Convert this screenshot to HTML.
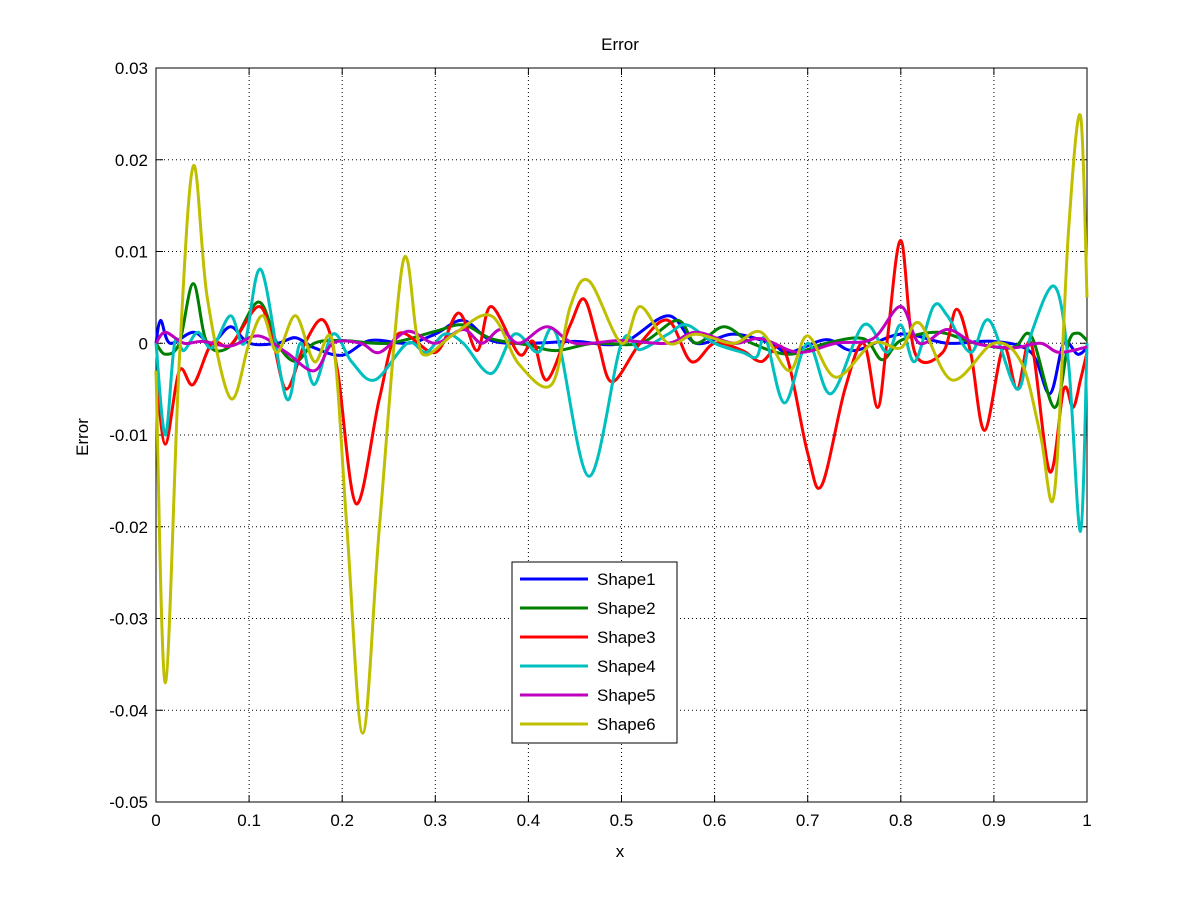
<!DOCTYPE html>
<html><head><style>
body{margin:0;background:#fff;}
svg text{font-family:"Liberation Sans",Arial,sans-serif;font-size:17px;fill:#000;}
</style></head><body>
<svg id="s" width="1201" height="901" xmlns="http://www.w3.org/2000/svg">
<rect width="1201" height="901" fill="#fff"/>
<g id="grid"></g>
<rect x="156" y="68" width="931" height="734" fill="none" stroke="#000" stroke-width="1"/>
<g id="ticks"></g>
<g id="lines" fill="none" stroke-width="3" stroke-linejoin="round"></g>
<text x="620" y="50" text-anchor="middle">Error</text>
<text x="620" y="857" text-anchor="middle">x</text>
<text transform="translate(88,437) rotate(-90)" text-anchor="middle">Error</text>
<g id="legend"></g>
</svg>
<script>
const X=v=>156+931*v, Y=v=>343.25-9175*v;
const ns="http://www.w3.org/2000/svg";
function el(p,t,a,txt){const e=document.createElementNS(ns,t);for(const k in a)e.setAttribute(k,a[k]);if(txt!==undefined)e.textContent=txt;document.getElementById(p).appendChild(e);return e;}
for(let i=0;i<=10;i++){const x=X(i/10);
 if(i>0&&i<10)el('grid','line',{x1:x,y1:68,x2:x,y2:802,stroke:'#000','stroke-dasharray':'1,3','stroke-width':1});
 el('ticks','line',{x1:x,y1:802,x2:x,y2:795,stroke:'#000'});el('ticks','line',{x1:x,y1:68,x2:x,y2:75,stroke:'#000'});
 el('ticks','text',{x:x,y:826,'text-anchor':'middle'},i==0?'0':i==10?'1':(i/10).toFixed(1));}
for(let i=0;i<=8;i++){const v=0.03-i*0.01,y=68+i*91.75;
 if(i>0&&i<8)el('grid','line',{x1:156,y1:y,x2:1087,y2:y,stroke:'#000','stroke-dasharray':'1,3','stroke-width':1});
 el('ticks','line',{x1:156,y1:y,x2:163,y2:y,stroke:'#000'});el('ticks','line',{x1:1087,y1:y,x2:1080,y2:y,stroke:'#000'});
 el('ticks','text',{x:148,y:y+6,'text-anchor':'end'},i==3?'0':v.toFixed(2));}
function path(pts){const p=pts.map(([a,b])=>[X(a),Y(b)]);let d='M'+p[0][0]+','+p[0][1];
 for(let i=0;i<p.length-1;i++){const p0=p[Math.max(0,i-1)],p1=p[i],p2=p[i+1],p3=p[Math.min(p.length-1,i+2)];
 d+=` C${p1[0]+(p2[0]-p0[0])/6},${p1[1]+(p2[1]-p0[1])/6} ${p2[0]-(p3[0]-p1[0])/6},${p2[1]-(p3[1]-p1[1])/6} ${p2[0]},${p2[1]}`;}return d;}
const S={
'#0000ff':[[0,0],[0.005,0.0025],[0.015,0],[0.04,0.0012],[0.06,0],[0.08,0.0018],[0.1,0],[0.13,0],[0.15,0.0006],[0.17,-0.0005],[0.2,-0.0013],[0.23,0.0003],[0.27,0],[0.3,0.001],[0.33,0.0025],[0.36,0.0003],[0.4,0],[0.45,0.0002],[0.5,0],[0.55,0.003],[0.58,0],[0.62,0.001],[0.66,0],[0.68,-0.001],[0.72,0.0004],[0.75,-0.0008],[0.8,0.001],[0.85,0],[0.9,0.0002],[0.94,-0.001],[0.96,-0.0055],[0.975,0],[0.99,-0.0012],[1,-0.0005]],
'#007f00':[[0,0],[0.01,-0.0012],[0.025,0],[0.04,0.0065],[0.055,0],[0.08,-0.0003],[0.11,0.0045],[0.13,0],[0.15,-0.002],[0.17,0],[0.2,0.0003],[0.25,0],[0.3,0.0013],[0.33,0.002],[0.36,0.0005],[0.4,-0.0002],[0.43,-0.0008],[0.47,0],[0.52,0],[0.56,0.0025],[0.58,0],[0.61,0.0018],[0.64,0],[0.68,-0.0012],[0.72,0],[0.76,0.0005],[0.78,-0.0018],[0.8,0.0003],[0.84,0.0012],[0.88,0],[0.92,-0.0005],[0.94,0.0008],[0.965,-0.007],[0.98,0],[0.99,0.0011],[1,0.0003]],
'#ff0000':[[0,-0.003],[0.01,-0.011],[0.025,-0.003],[0.04,-0.0045],[0.06,0],[0.08,-0.0002],[0.11,0.004],[0.125,0.0005],[0.14,-0.005],[0.16,0],[0.18,0.0025],[0.195,-0.003],[0.215,-0.0175],[0.24,-0.006],[0.26,0.001],[0.3,-0.001],[0.325,0.0033],[0.345,-0.0008],[0.36,0.004],[0.39,-0.0012],[0.405,0.0002],[0.42,-0.004],[0.445,0.002],[0.46,0.0048],[0.475,0],[0.49,-0.0042],[0.52,0],[0.55,0.0025],[0.575,-0.002],[0.6,0],[0.63,-0.0008],[0.65,-0.002],[0.675,-0.0008],[0.7,-0.012],[0.715,-0.0155],[0.74,-0.005],[0.76,0],[0.775,-0.007],[0.785,0],[0.8,0.0112],[0.815,-0.001],[0.845,-0.001],[0.86,0.0037],[0.875,-0.001],[0.89,-0.0095],[0.91,-0.0005],[0.925,-0.005],[0.94,0],[0.96,-0.014],[0.975,-0.005],[0.985,-0.007],[0.993,-0.004],[1,-0.001]],
'#00bfbf':[[0,0],[0.01,-0.01],[0.02,0],[0.03,-0.0008],[0.045,0.0012],[0.06,-0.0005],[0.08,0.003],[0.095,0],[0.113,0.008],[0.14,-0.006],[0.155,0],[0.17,-0.0045],[0.19,0.001],[0.21,-0.002],[0.235,-0.004],[0.27,0],[0.29,-0.001],[0.31,0.001],[0.33,0],[0.36,-0.0033],[0.385,0.001],[0.41,-0.001],[0.43,0.001],[0.465,-0.0145],[0.5,0],[0.52,-0.0007],[0.55,0.001],[0.57,0.002],[0.6,0],[0.63,-0.001],[0.645,-0.0015],[0.655,0.0005],[0.675,-0.0065],[0.7,0],[0.725,-0.0055],[0.76,0.002],[0.785,-0.001],[0.8,0.002],[0.815,-0.002],[0.835,0.004],[0.85,0.003],[0.875,-0.001],[0.895,0.0025],[0.925,-0.005],[0.94,0.001],[0.965,0.0062],[0.98,-0.002],[0.993,-0.0205],[1,0]],
'#bf00bf':[[0,0],[0.01,0.0012],[0.03,0],[0.05,0.0002],[0.08,-0.0003],[0.11,0.0008],[0.14,-0.001],[0.17,-0.003],[0.19,0],[0.22,0],[0.24,-0.001],[0.27,0.0013],[0.3,0],[0.33,0.0015],[0.35,0],[0.37,0.0015],[0.39,0],[0.42,0.0018],[0.45,0],[0.5,0.0003],[0.55,0],[0.58,0.0012],[0.62,0],[0.65,0.0005],[0.69,-0.001],[0.73,0],[0.77,0.0005],[0.8,0.004],[0.82,0],[0.85,0.0015],[0.88,0],[0.92,-0.0005],[0.95,0],[0.97,-0.001],[1,-0.0004]],
'#bfbf00':[[0,-0.003],[0.01,-0.037],[0.025,-0.002],[0.04,0.0193],[0.055,0.005],[0.08,-0.006],[0.1,0],[0.115,0.003],[0.13,-0.001],[0.15,0.003],[0.17,-0.002],[0.19,0],[0.205,-0.02],[0.222,-0.0425],[0.24,-0.02],[0.265,0.0087],[0.28,0.001],[0.29,-0.0013],[0.32,0.001],[0.36,0.003],[0.39,-0.0023],[0.425,-0.0045],[0.445,0.004],[0.465,0.0068],[0.5,0],[0.52,0.004],[0.55,0],[0.58,0.001],[0.62,0],[0.65,0.0012],[0.68,-0.003],[0.7,0.0008],[0.73,-0.0037],[0.77,0],[0.8,-0.0005],[0.82,0.0022],[0.855,-0.004],[0.9,0],[0.93,-0.0022],[0.95,-0.01],[0.965,-0.0163],[0.98,0.012],[0.993,0.0248],[1,0.005]]};
for(const c in S)el('lines','path',{d:path(S[c]),stroke:c});
el('legend','rect',{x:512,y:562,width:165,height:181,fill:'#fff',stroke:'#000'});
Object.keys(S).forEach((c,i)=>{const y=579+i*29;el('legend','line',{x1:520,y1:y,x2:588,y2:y,stroke:c,'stroke-width':3});
 el('legend','text',{x:597,y:y+6},'Shape'+(i+1));});
</script>
</body></html>
